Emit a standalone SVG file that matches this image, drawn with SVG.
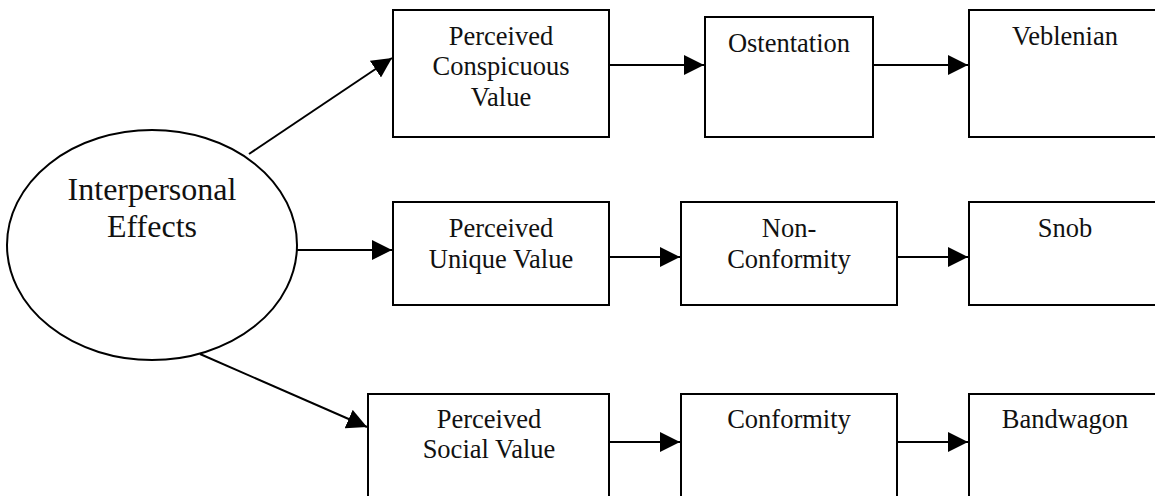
<svg xmlns="http://www.w3.org/2000/svg" width="1155" height="496" viewBox="0 0 1155 496">
<style>
.n{fill:#fff;stroke:#000;stroke-width:2}
.t{font-family:"Liberation Serif","Times New Roman",serif;font-size:26.5px;fill:#111;text-anchor:middle}
.big{font-size:32px}
.c{stroke:#000;stroke-width:2;fill:none;marker-end:url(#ah)}
</style>
<defs>
<marker id="ah" markerWidth="20" markerHeight="20" refX="20" refY="10" orient="auto" markerUnits="userSpaceOnUse">
<path d="M0,0 L20,10 L0,20 Z" fill="#000"/>
</marker>
</defs>
<rect width="1155" height="496" fill="#fff"/>
<g id="connectors">
<line class="c" x1="249" y1="154" x2="392" y2="58"/>
<line class="c" x1="297" y1="250" x2="392" y2="250"/>
<line class="c" x1="200" y1="354" x2="367" y2="427"/>
<line class="c" x1="609" y1="65" x2="704" y2="65"/>
<line class="c" x1="873" y1="65" x2="968" y2="65"/>
<line class="c" x1="609" y1="257" x2="680" y2="257"/>
<line class="c" x1="897" y1="257" x2="968" y2="257"/>
<line class="c" x1="609" y1="442" x2="680" y2="442"/>
<line class="c" x1="897" y1="442" x2="968" y2="442"/>
</g>
<g id="interpersonal">
<ellipse class="n" cx="152" cy="245" rx="145" ry="115"/>
<text class="t big" x="152" y="200">Interpersonal</text>
<text class="t big" x="152" y="237">Effects</text>
</g>
<g id="conspicuous">
<rect class="n" x="393" y="10" width="216" height="127"/>
<text class="t" x="501" y="45">Perceived</text>
<text class="t" x="501" y="75">Conspicuous</text>
<text class="t" x="501" y="106">Value</text>
</g>
<g id="ostentation">
<rect class="n" x="705" y="17" width="168" height="120"/>
<text class="t" x="789" y="52">Ostentation</text>
</g>
<g id="veblenian">
<rect class="n" x="969" y="10" width="192" height="127"/>
<text class="t" x="1065" y="45">Veblenian</text>
</g>
<g id="unique">
<rect class="n" x="393" y="202" width="216" height="103"/>
<text class="t" x="501" y="237">Perceived</text>
<text class="t" x="501" y="268">Unique Value</text>
</g>
<g id="nonconformity">
<rect class="n" x="681" y="202" width="216" height="103"/>
<text class="t" x="789" y="237">Non-</text>
<text class="t" x="789" y="268">Conformity</text>
</g>
<g id="snob">
<rect class="n" x="969" y="202" width="192" height="103"/>
<text class="t" x="1065" y="237">Snob</text>
</g>
<g id="social">
<rect class="n" x="368" y="394" width="241" height="120"/>
<text class="t" x="489" y="428">Perceived</text>
<text class="t" x="489" y="458">Social Value</text>
</g>
<g id="conformity">
<rect class="n" x="681" y="394" width="216" height="120"/>
<text class="t" x="789" y="428">Conformity</text>
</g>
<g id="bandwagon">
<rect class="n" x="969" y="394" width="192" height="120"/>
<text class="t" x="1065" y="428">Bandwagon</text>
</g>
</svg>
